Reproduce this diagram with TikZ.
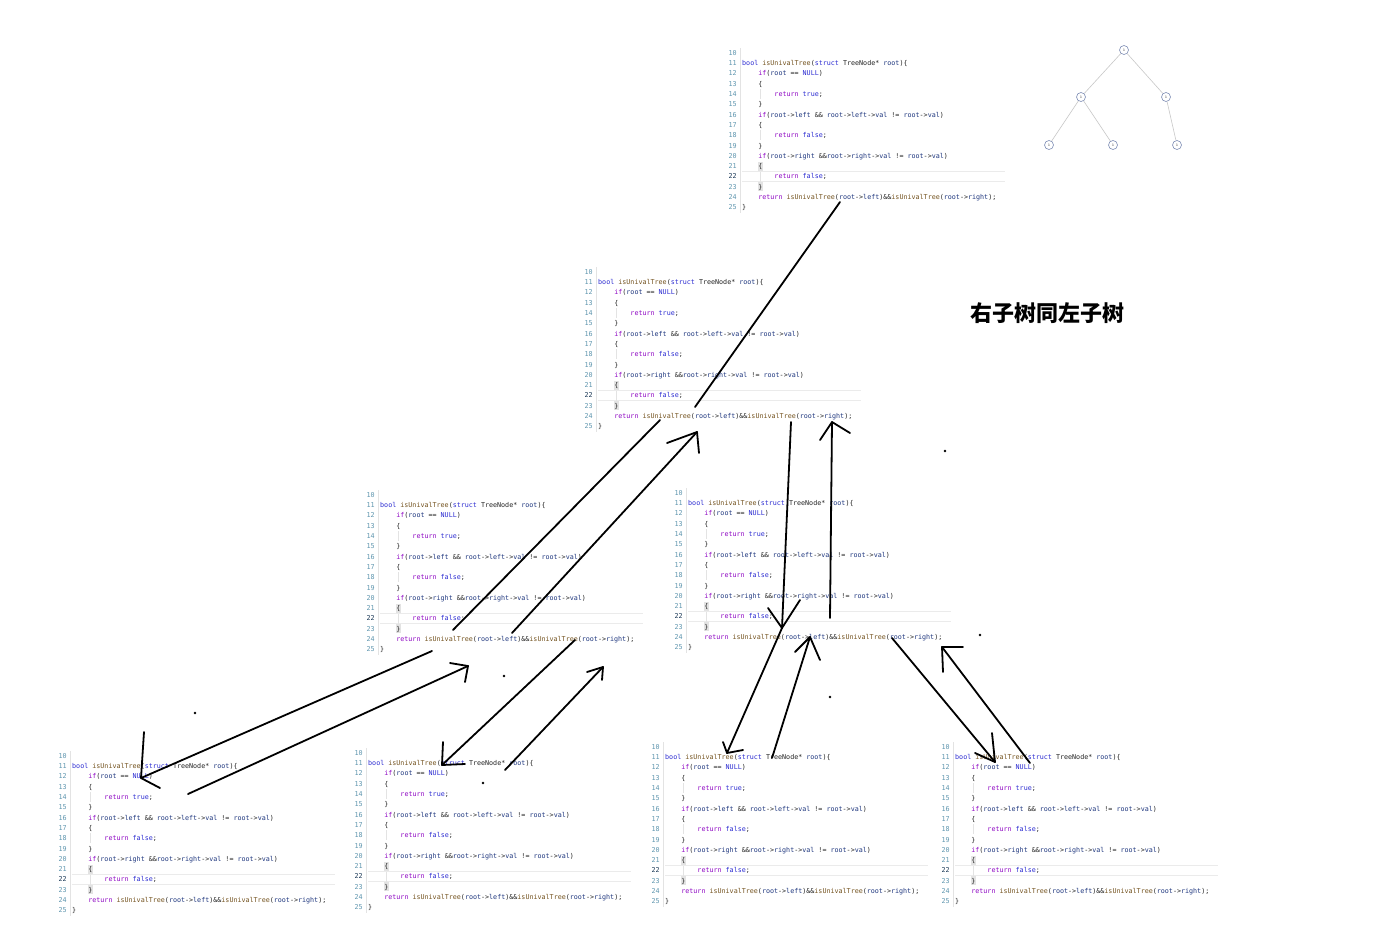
\documentclass[tikz,border=0pt]{standalone}
\usepackage{fontspec}
\usepackage{array}
\newfontfamily\codefont{DejaVu Sans Mono}
\newfontfamily\cjk{Noto Sans CJK SC}
\definecolor{kwblue}{RGB}{45,45,210}
\definecolor{ctrl}{RGB}{143,8,196}
\definecolor{fnc}{RGB}{116,83,31}
\definecolor{varc}{RGB}{31,55,127}
\definecolor{lnum}{RGB}{95,150,175}
\definecolor{lnumcur}{RGB}{25,55,85}
\definecolor{plain}{RGB}{35,35,35}
\definecolor{treenode}{RGB}{125,140,180}
\definecolor{treeedge}{RGB}{200,200,200}
\newcommand\kw[1]{\textcolor{kwblue}{#1}}
\newcommand\ct[1]{\textcolor{ctrl}{#1}}
\newcommand\fn[1]{\textcolor{fnc}{#1}}
\newcommand\vr[1]{\textcolor{varc}{#1}}
\newcommand\ind{\phantom{0000}}
\newcommand\codetab{%
\begin{tabular}{@{}>{\color{lnum}}r@{\hspace{5.5pt}}>{\color{plain}}l@{}}
10 & \\
11 & \kw{bool} \fn{isUnivalTree}(\kw{struct} TreeNode* \vr{root})\{\\
12 & \ind\ct{if}(\vr{root} == \kw{NULL})\\
13 & \ind\{\\
14 & \ind\ind\ct{return} \kw{true};\\
15 & \ind\}\\
16 & \ind\ct{if}(\vr{root}->\vr{left} \&\& \vr{root}->\vr{left}->\vr{val} != \vr{root}->\vr{val})\\
17 & \ind\{\\
18 & \ind\ind\ct{return} \kw{false};\\
19 & \ind\}\\
20 & \ind\ct{if}(\vr{root}->\vr{right} \&\&\vr{root}->\vr{right}->\vr{val} != \vr{root}->\vr{val})\\
21 & \ind\{\\
\textcolor{lnumcur}{22} & \ind\ind\ct{return} \kw{false};\\
23 & \ind\}\\
24 & \ind\ct{return} \fn{isUnivalTree}(\vr{root}->\vr{left})\&\&\fn{isUnivalTree}(\vr{root}->\vr{right});\\
25 & \}
\end{tabular}}
\tikzset{
  codeblk/.style={inner sep=0pt, anchor=north west, font=\codefont\fontsize{6.7}{10.3}\selectfont},
  guide/.style={draw=gray!22, line width=0.6pt},
  hlbox/.style={draw=gray!16, line width=0.7pt},
  bmatch/.style={fill=gray!22},
  tn/.style={circle, draw=treenode, fill=white, line width=0.6pt, minimum size=9pt, inner sep=0pt, font=\fontsize{3.5}{4}\selectfont},
  tedge/.style={draw=treeedge, line width=0.6pt},
  pen/.style={draw=black, line width=1.8pt, line cap=round, line join=round},
  blot/.style={fill=black},
  title/.style={font=\cjk\bfseries\fontsize{22}{24}\selectfont, inner sep=0pt}
}
\newcommand\codeblock[3]{%
  \draw[guide] ({#2-1.5},{#3-5}) -- ({#2-1.5},{#3+15*10.3+5});
  \draw[hlbox] ({#2},{#3+12*10.3-5}) -- ({#2+263},{#3+12*10.3-5})
               ({#2},{#3+12*10.3+5}) -- ({#2+263},{#3+12*10.3+5});
  \fill[bmatch] ({#2+15.5},{#3+11*10.3-4.5}) rectangle ({#2+21},{#3+11*10.3+4.5});
  \fill[bmatch] ({#2+15.5},{#3+13*10.3-4.5}) rectangle ({#2+21},{#3+13*10.3+4.5});
  \draw[guide] ({#2+18},{#3+4*10.3-5}) -- ({#2+18},{#3+4*10.3+5});
  \draw[guide] ({#2+18},{#3+8*10.3-5}) -- ({#2+18},{#3+8*10.3+5});
  \draw[guide] ({#2+18},{#3+12*10.3-5}) -- ({#2+18},{#3+12*10.3+5});
  \node[codeblk] (#1) at ({#2-13.57},{#3-5.1}) {\codetab};
}
\begin{document}
\begin{tikzpicture}[x=1pt,y=-1pt]
\useasboundingbox (0,0) rectangle (1400,940);
\fill[white] (0,0) rectangle (1400,940);

% code blocks
\codeblock{b1}{742}{53}
\codeblock{b2}{598}{272}
\codeblock{b3}{380}{495}
\codeblock{b4}{688}{493}
\codeblock{b5}{72}{756}
\codeblock{b6}{368}{753}
\codeblock{b7}{665}{747}
\codeblock{b8}{955}{747}

% tree
\node[tn] (t1) at (1124,50) {1};
\node[tn] (t2) at (1081,97) {1};
\node[tn] (t3) at (1166,97) {1};
\node[tn] (t4) at (1049,145) {1};
\node[tn] (t5) at (1113,145) {1};
\node[tn] (t6) at (1177,145) {1};
\draw[tedge] (t1) -- (t2);
\draw[tedge] (t1) -- (t3);
\draw[tedge] (t2) -- (t4);
\draw[tedge] (t2) -- (t5);
\draw[tedge] (t3) -- (t6);

% title
\node[title] (ttl) at (1047,313) {右子树同左子树};

% hand-drawn arrows
\coordinate (a1s) at (840,202);  \coordinate (a1e) at (695,407);
\coordinate (a2s) at (660,420);  \coordinate (a2e) at (453,630);
\coordinate (a3s) at (512,633);  \coordinate (a3e) at (697,432);
\coordinate (a4s) at (791,422);  \coordinate (a4e) at (782,628);
\coordinate (a5s) at (830,618);  \coordinate (a5e) at (832,422);
\coordinate (a6s) at (432,651);  \coordinate (a6e) at (141,778);
\coordinate (a7s) at (188,794);  \coordinate (a7e) at (468,666);
\coordinate (a8s) at (575,640);  \coordinate (a8e) at (442,765);
\coordinate (a9s) at (505,770);  \coordinate (a9e) at (603,667);
\coordinate (a10s) at (782,628); \coordinate (a10e) at (727,753);
\coordinate (a11s) at (772,758); \coordinate (a11e) at (810,637);
\coordinate (a12s) at (892,638); \coordinate (a12e) at (995,762);
\coordinate (a13s) at (1030,763);\coordinate (a13e) at (942,647);

\draw[pen] (a1s) -- (a1e);
\draw[pen] (a2s) -- (a2e);
\draw[pen] (a3s) -- (a3e);
\draw[pen] (667,443) -- (a3e) -- (699,453);
\draw[pen] (a4s) -- (a4e);
\draw[pen] (768,608) -- (a4e) -- (800,600);
\draw[pen] (a5s) -- (a5e);
\draw[pen] (820,440) -- (a5e) -- (850,433);
\draw[pen] (a6s) -- (a6e);
\draw[pen] (144,732) -- (a6e) -- (160,788);
\draw[pen] (a7s) -- (a7e);
\draw[pen] (450,663) -- (a7e) -- (465,682);
\draw[pen] (a8s) -- (a8e);
\draw[pen] (443,742) -- (a8e) -- (465,764);
\draw[pen] (a9s) -- (a9e);
\draw[pen] (587,672) -- (a9e) -- (602,680);
\draw[pen] (a10s) -- (a10e);
\draw[pen] (723,742) -- (a10e) -- (743,750);
\draw[pen] (a11s) -- (a11e);
\draw[pen] (795,652) -- (a11e) -- (820,660);
\draw[pen] (a12s) -- (a12e);
\draw[pen] (992,733) -- (a12e) -- (975,753);
\draw[pen] (a13s) -- (a13e);
\draw[pen] (963,647) -- (a13e) -- (943,672);

% stray ink dots
\fill[blot] (945,451) circle (1.3);
\fill[blot] (980,635) circle (1.3);
\fill[blot] (504,676) circle (1.3);
\fill[blot] (195,713) circle (1.3);
\fill[blot] (830,697) circle (1.3);
\fill[blot] (483,783) circle (1.3);
\end{tikzpicture}
\end{document}
